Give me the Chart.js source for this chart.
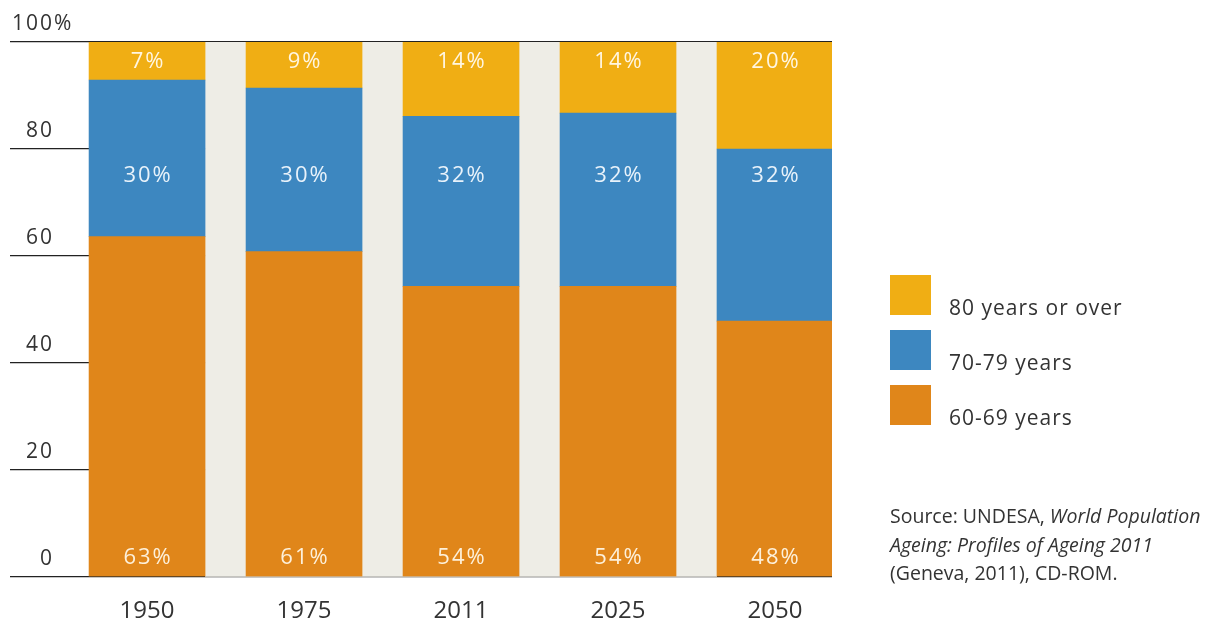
<!DOCTYPE html>
<html><head><meta charset="utf-8">
<script src="https://cdn.jsdelivr.net/npm/chart.js@4"></script>
<style>html,body{margin:0;padding:0;background:#fff}canvas{display:block}</style>
</head><body>
<canvas id="c" width="1220" height="621"></canvas>
<script>
const years = ['1950', '1975', '2011', '2025', '2050'];
const age6069 = [63.6, 60.8, 54.3, 54.3, 47.8];
const age7079 = [29.3, 30.6, 31.8, 32.4, 32.2];
const age80plus = [7.1, 8.6, 13.9, 13.3, 20.0];
const label6069 = ['63%', '61%', '54%', '54%', '48%'];
const label7079 = ['30%', '30%', '32%', '32%', '32%'];
const label80plus = ['7%', '9%', '14%', '14%', '20%'];
const yTickValues = [0, 20, 40, 60, 80, 100];
const yTickLabels = ['0', '20', '40', '60', '80', '100%'];
const seriesNames = ['60-69 years', '70-79 years', '80 years or over'];
const sourceLines = [
  [['Source: UNDESA, ', false], ['World Population', true]],
  [['Ageing: Profiles of Ageing 2011', true]],
  [['(Geneva, 2011), CD-ROM.', false]]
];

const FONT = '"Open Sans", "Liberation Sans", sans-serif';
const COLORS = ['#e0861a', '#3d87c0', '#f0ae14'];
const TEXT = '#333333';

const decor = {
  id: 'decor',
  beforeDatasetsDraw(chart) {
    const { ctx, chartArea: a } = chart;
    const els = chart.getDatasetMeta(0).data;
    const first = els[0], last = els[els.length - 1];
    const x1 = first.x + first.width / 2, x2 = last.x - last.width / 2;
    ctx.save();
    ctx.fillStyle = '#eeede6';
    ctx.fillRect(x1, a.top, x2 - x1, a.bottom - a.top);
    ctx.restore();
  },
  afterDraw(chart) {
    const { ctx } = chart;
    const ys = chart.scales.y;
    const els = chart.getDatasetMeta(0).data;
    ctx.save();
    // in-bar labels
    ctx.font = '22px ' + FONT;
    ctx.letterSpacing = '2px';
    ctx.textAlign = 'center';
    ctx.textBaseline = 'alphabetic';
    els.forEach((el, i) => {
      ctx.fillStyle = '#fff6e2';
      ctx.fillText(label80plus[i], el.x + 1, ys.getPixelForValue(100) + 26);
      ctx.fillStyle = '#e8f2fa';
      ctx.fillText(label7079[i], el.x + 1, ys.getPixelForValue(80) + 33);
      ctx.fillStyle = '#fdf0da';
      ctx.fillText(label6069[i], el.x + 1, ys.getPixelForValue(0) - 13);
    });
    // y tick labels
    ctx.font = '21px ' + FONT;
    ctx.fillStyle = TEXT;
    ctx.textAlign = 'left';
    yTickValues.forEach((v, i) => {
      const lab = yTickLabels[i];
      const num = lab.replace('%', '');
      const w = ctx.measureText(num).width;
      ctx.fillText(lab, 54 - w, ys.getPixelForValue(v) - 12);
    });
    // legend
    ctx.letterSpacing = '1px';
    ctx.font = '21px ' + FONT;
    [2, 1, 0].forEach((d, k) => {
      const top = 275 + k * 55;
      ctx.fillStyle = chart.data.datasets[d].backgroundColor;
      ctx.fillRect(890, top, 41, 40);
      ctx.fillStyle = TEXT;
      ctx.fillText(chart.data.datasets[d].label, 949, top + 40);
    });
    // source
    ctx.letterSpacing = '0px';
    sourceLines.forEach((segs, li) => {
      let x = 890;
      segs.forEach(([t, it]) => {
        ctx.font = (it ? 'italic ' : '') + '19.5px ' + FONT;
        ctx.fillStyle = TEXT;
        ctx.fillText(t, x, 523 + li * 28.5);
        x += ctx.measureText(t).width;
      });
    });
    ctx.restore();
  }
};

const mk = (arr) => years.map((_, i) => ({ x: i, y: arr[i] }));

new Chart(document.getElementById('c'), {
  type: 'bar',
  data: {
    datasets: [
      { label: seriesNames[0], data: mk(age6069), backgroundColor: COLORS[0] },
      { label: seriesNames[1], data: mk(age7079), backgroundColor: COLORS[1] },
      { label: seriesNames[2], data: mk(age80plus), backgroundColor: COLORS[2] }
    ]
  },
  options: {
    responsive: false,
    devicePixelRatio: 1,
    animation: false,
    barThickness: 116,
    borderWidth: 0,
    layout: { padding: { left: 10, right: 388, top: 42, bottom: -24.6 } },
    plugins: { legend: { display: false }, tooltip: { enabled: false } },
    scales: {
      x: {
        type: 'linear', stacked: true, min: -0.873, max: 4.363, offset: false,
        grid: { display: false, drawTicks: false }, border: { display: false },
        ticks: {
          stepSize: 1, includeBounds: false, autoSkip: false, maxRotation: 0, padding: 20, color: TEXT,
          font: { family: FONT, size: 24 },
          callback: (v) => { const r = Math.round(v); return (Math.abs(v - r) < 1e-6 && years[r] !== undefined) ? years[r] : ''; }
        }
      },
      y: {
        stacked: true, min: 0, max: 100, z: 1,
        ticks: { display: false, stepSize: 20 },
        grid: { color: '#222222', lineWidth: 1.2, drawTicks: false },
        border: { display: false }
      }
    }
  },
  plugins: [decor]
});
</script>
</body></html>
